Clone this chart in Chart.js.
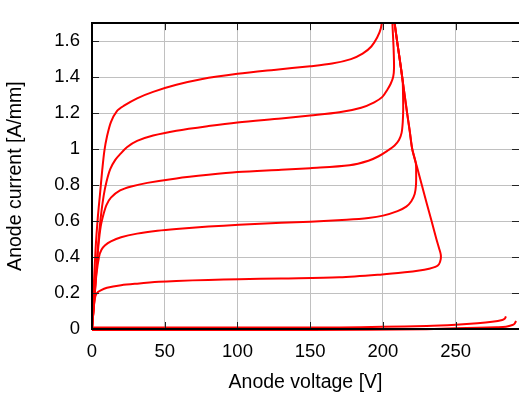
<!DOCTYPE html>
<html>
<head>
<meta charset="utf-8">
<script src="https://cdn.jsdelivr.net/npm/chart.js"></script>
<style>
  html, body { margin: 0; padding: 0; background: #fff; }
  #box { width: 519px; height: 394px; }
</style>
</head>
<body>
<div id="box"><canvas id="myChart" width="519" height="394"></canvas></div>
<script>
// eixos
const xTicks = [0, 50, 100, 150, 200, 250];
const yTicks = [0, 0.2, 0.4, 0.6, 0.8, 1, 1.2, 1.4, 1.6];
const xMax = 293.5;
const yMax = 1.7;

// curvas (tensao [V] / corrente [A/mm])
const vA = [0, 1, 2.5, 4, 5.5, 7, 8.5, 10.3, 13, 17, 22, 31, 42, 58, 75, 100, 125, 150, 165, 178, 186, 192, 196, 198.5, 200];
const iA = [0, 0.2, 0.45, 0.62, 0.75, 0.88, 0.99, 1.07, 1.15, 1.21, 1.241, 1.282, 1.318, 1.357, 1.388, 1.418, 1.44, 1.46, 1.475, 1.5, 1.53, 1.57, 1.62, 1.67, 1.75];

const vB = [0, 2, 4, 6, 8, 10, 12.6, 16, 19.5, 24, 31, 42, 58, 80, 100, 130, 150, 170, 185, 194, 199.6, 203, 205.3, 207, 207.6, 207.3, 206.6, 206.3];
const iB = [0, 0.22, 0.45, 0.62, 0.74, 0.82, 0.89, 0.94, 0.973, 1.01, 1.045, 1.075, 1.102, 1.128, 1.148, 1.17, 1.186, 1.204, 1.23, 1.26, 1.29, 1.33, 1.363, 1.4, 1.45, 1.56, 1.68, 1.76];

const vC = [0, 1.5, 3, 4.5, 6, 8, 10, 13, 19.3, 27, 38, 58, 80, 100, 130, 150, 177, 190, 197, 203, 208, 211, 212.8, 213.6, 213.9, 213.8, 213.5, 211.5, 209.7, 208, 207.2];
const iC = [0, 0.15, 0.32, 0.47, 0.57, 0.64, 0.69, 0.73, 0.77, 0.792, 0.812, 0.837, 0.857, 0.872, 0.885, 0.894, 0.91, 0.935, 0.96, 0.99, 1.02, 1.05, 1.09, 1.15, 1.22, 1.3, 1.38, 1.5, 1.6, 1.7, 1.75];

const vD = [0, 1.5, 3, 4.8, 6.5, 9, 13, 20, 31, 45, 58, 80, 101, 130, 150, 175, 190, 200, 210, 216, 219.5, 221.8, 222.7, 222.8, 222.6, 220.1, 218.4, 216.6, 214.9, 213.2, 211.5, 209.7, 208, 207.2];
const iD = [0, 0.15, 0.3, 0.4, 0.44, 0.465, 0.487, 0.51, 0.53, 0.546, 0.556, 0.569, 0.579, 0.59, 0.596, 0.607, 0.617, 0.63, 0.655, 0.68, 0.71, 0.75, 0.8, 0.87, 0.92, 1, 1.1, 1.2, 1.3, 1.4, 1.5, 1.6, 1.7, 1.75];

const vE = [0, 1, 2, 3.4, 6, 10.3, 20, 31, 46, 58, 80, 101, 130, 170, 199.4, 215, 225, 231.7, 236, 238.5, 239.7, 239.7, 238.5, 236.7, 233.4, 230, 226.7, 223.4, 220.1, 218.4, 216.6, 214.9, 213.2, 211.5, 209.7, 208, 207.2];
const iE = [0, 0.1, 0.17, 0.2, 0.215, 0.229, 0.243, 0.252, 0.262, 0.267, 0.273, 0.277, 0.281, 0.287, 0.303, 0.315, 0.325, 0.335, 0.345, 0.36, 0.388, 0.415, 0.45, 0.5, 0.6, 0.7, 0.8, 0.9, 1, 1.1, 1.2, 1.3, 1.4, 1.5, 1.6, 1.7, 1.75];

// curvas de corte (quase zero)
const vF = [0, 100, 170, 199.6, 230, 250, 265, 275, 282, 283.8, 284.5];
const iF = [0.008, 0.009, 0.009, 0.012, 0.017, 0.024, 0.032, 0.04, 0.05, 0.058, 0.07];

const vG = [0, 150, 230, 250, 265, 278, 284.5, 289, 290.5, 291.5];
const iG = [-0.005, -0.005, -0.001, 0.004, 0.007, 0.01, 0.013, 0.022, 0.03, 0.045];

function pontos(xs, ys) {
    return xs.map((x, i) => ({ x: x, y: ys[i] }));
}

function curva(xs, ys) {
    return {
        data: pontos(xs, ys),
        borderColor: '#ff0000',
        borderWidth: 2,
        pointRadius: 0,
        showLine: true,
        fill: false,
        tension: 0.3
    };
}

const familia = "'Liberation Sans', Arial, sans-serif";
const fonteTicks = { family: familia, size: 18.5 };
const fonteTitulo = { family: familia, size: 19.5 };

// moldura preta com marcas internas (estilo gnuplot)
const moldura = {
    id: 'moldura',
    afterDatasetsDraw(chart) {
        const ctx = chart.ctx;
        const a = chart.chartArea;
        const sx = chart.scales.x;
        const sy = chart.scales.y;
        const tam = 7;
        ctx.save();
        ctx.strokeStyle = '#222';
        ctx.lineWidth = 1;
        ctx.beginPath();
        xTicks.forEach(v => {
            const px = Math.round(sx.getPixelForValue(v)) + 0.5;
            ctx.moveTo(px, a.bottom); ctx.lineTo(px, a.bottom - tam);
            ctx.moveTo(px, a.top); ctx.lineTo(px, a.top + tam);
        });
        yTicks.forEach(v => {
            const py = Math.round(sy.getPixelForValue(v)) + 0.5;
            ctx.moveTo(a.left, py); ctx.lineTo(a.left + tam, py);
            ctx.moveTo(a.right, py); ctx.lineTo(a.right - tam, py);
        });
        ctx.stroke();
        ctx.strokeStyle = '#000';
        ctx.lineWidth = 2;
        ctx.beginPath();
        ctx.moveTo(a.right, a.top);
        ctx.lineTo(a.left, a.top);
        ctx.lineTo(a.left, a.bottom);
        ctx.lineTo(a.right, a.bottom);
        ctx.stroke();
        ctx.restore();
    }
};

const datasets = [
    curva(vA, iA), curva(vB, iB), curva(vC, iC),
    curva(vD, iD), curva(vE, iE), curva(vF, iF), curva(vG, iG)
];
datasets[6].clip = { left: 0, top: 0, right: 0, bottom: 4 };

new Chart(document.getElementById('myChart'), {
    type: 'scatter',
    data: { datasets: datasets },
    options: {
        responsive: false,
        devicePixelRatio: 1,
        animation: false,
        layout: { padding: { left: 0, top: 8, right: 0, bottom: 0 } },
        plugins: { legend: { display: false }, tooltip: { enabled: false } },
        scales: {
            x: {
                type: 'linear',
                min: 0,
                max: xMax,
                afterFit: s => { s.height = 65; },
                afterBuildTicks: s => { s.ticks = xTicks.map(v => ({ value: v })); },
                grid: { color: '#c0c0c0', lineWidth: 1, drawTicks: false },
                border: { display: false },
                ticks: { color: '#000', font: fonteTicks, padding: 12, maxRotation: 0 },
                title: { display: true, text: 'Anode voltage [V]', color: '#000', font: fonteTitulo, padding: { top: 0, bottom: 0 } }
            },
            y: {
                type: 'linear',
                min: 0,
                max: yMax,
                afterFit: s => { s.width = 92; },
                afterBuildTicks: s => { s.ticks = yTicks.map(v => ({ value: v })); },
                grid: { color: '#c0c0c0', lineWidth: 1, drawTicks: false },
                border: { display: false },
                ticks: {
                    color: '#000', font: fonteTicks, padding: 12,
                    callback: v => String(Math.round(v * 10) / 10)
                },
                title: { display: true, text: 'Anode current [A/mm]', color: '#000', font: fonteTitulo, padding: { top: 4, bottom: 0 } }
            }
        }
    },
    plugins: [moldura]
});
</script>
</body>
</html>
